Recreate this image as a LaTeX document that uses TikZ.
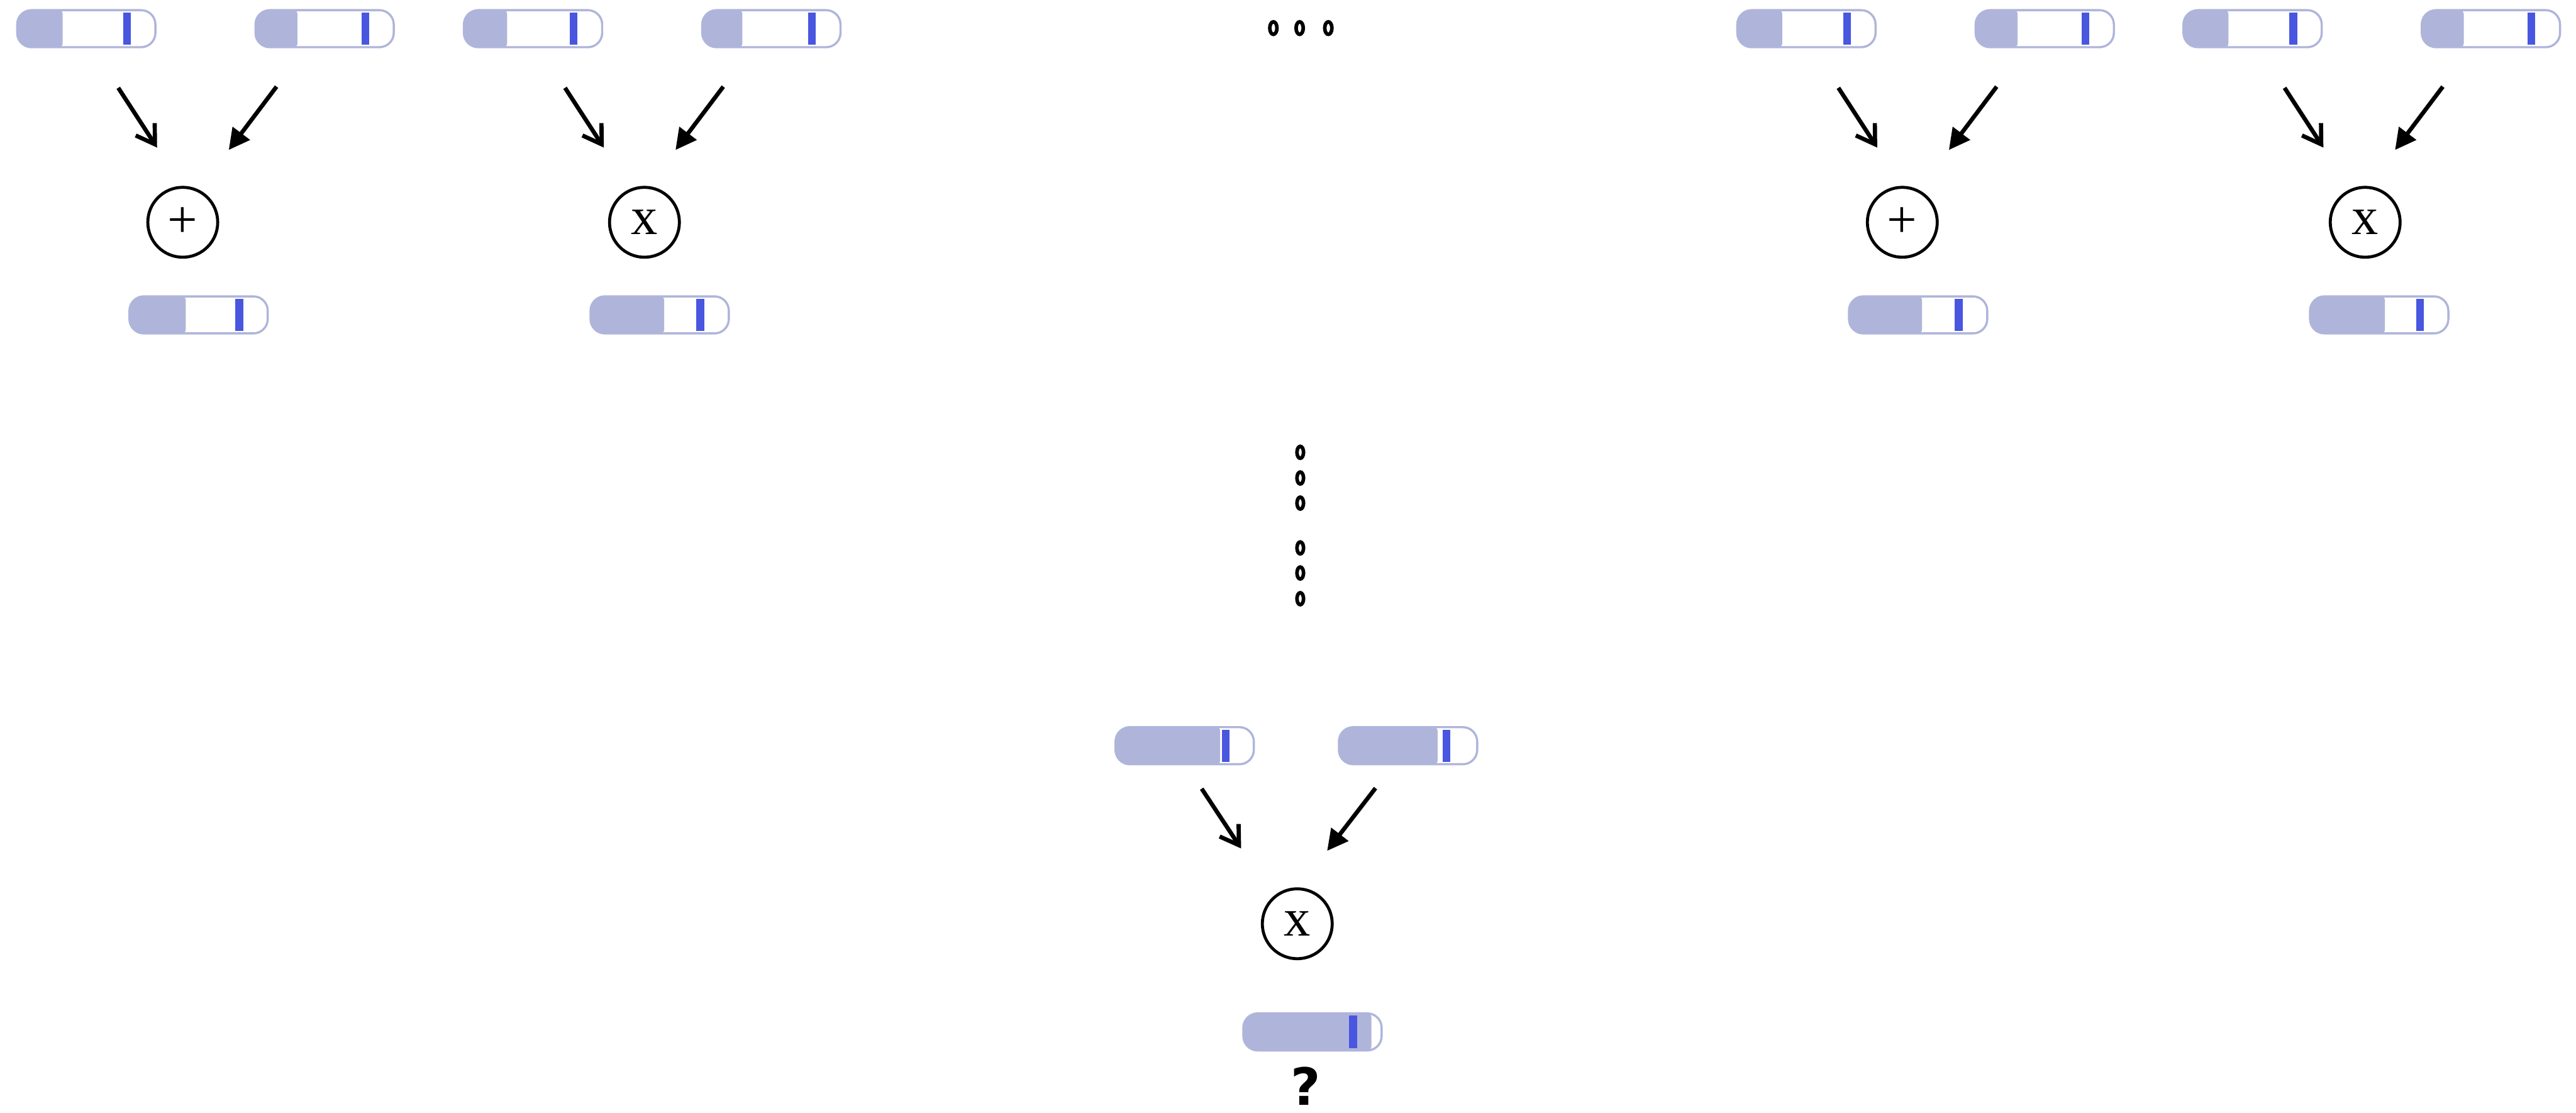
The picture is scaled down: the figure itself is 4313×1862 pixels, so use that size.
\documentclass[tikz,border=0pt]{standalone}
\usepackage{fontspec}
\newfontfamily\opfont{Liberation Serif}
\newfontfamily\qfont{DejaVu Sans}
\usetikzlibrary{arrows.meta}
\definecolor{barc}{HTML}{AFB5DA}
\definecolor{markc}{HTML}{4856E0}
\tikzset{
 barnode/.style={draw=barc, line width=3.6pt, rounded corners=24pt, minimum width=231.5pt, minimum height=62pt, inner sep=0pt, fill=white},
 opnode/.style={circle, draw=black, line width=5pt, minimum size=117pt, inner sep=0pt, font=\opfont\fontsize{89pt}{89pt}\selectfont},
 barbarrow/.style={line width=7pt, -{Straight Barb[length=30pt,width=38pt]}},
 triarrow/.style={line width=7pt, -{Triangle[length=35pt,width=35pt]}},
 dotring/.style={line width=6pt},
}
% name, left x, centre y, fill width, marker offset
\newcommand\pbar[5]{%
 \node[barnode] (#1) at ({#2+117.5},#3) {};
 \begin{scope}[shift={(#2,#3)}]
  \fill[barc, rounded corners=24pt] (0.5,-31.5) rectangle (60,31.5);
  \fill[barc, rounded corners=7pt] (30,-31.5) rectangle (#4,31.5);
  \fill[markc] (#5,-27) rectangle ({#5+13},27);
 \end{scope}}
\begin{document}
\begin{tikzpicture}[x=1pt,y=-1pt]
\useasboundingbox (0,0) rectangle (4313,1862);
% top input bars
\pbar{b1}{27}{48}{78}{179}
\pbar{b2}{426}{48}{72}{179}
\pbar{b3}{775}{48}{74}{179}
\pbar{b4}{1174}{48}{69}{179}
\pbar{b5}{2907}{48}{77}{179}
\pbar{b6}{3306}{48}{72}{179}
\pbar{b7}{3654}{48}{77}{179}
\pbar{b8}{4053}{48}{72}{179}
% result bars
\pbar{r1}{215}{527}{96}{179}
\pbar{r2}{987}{527}{125}{179}
\pbar{r3}{3094}{527}{124}{179}
\pbar{r4}{3866}{527}{127}{179}
% bottom inputs and final
\pbar{i1}{1866}{1248}{177}{180}
\pbar{i2}{2240}{1248}{167}{175}
\pbar{fin}{2080}{1727}{216}{179}
% operators
\node[opnode] (c1) at (306,372) {+};
\node[opnode] (c2) at (1079,372) {x};
\node[opnode] (c3) at (3185,372) {+};
\node[opnode] (c4) at (3960,372) {x};
\node[opnode] (c5) at (2172,1546) {x};
% question mark
\node[font=\qfont\bfseries\fontsize{86pt}{86pt}\selectfont, inner sep=0pt] (q) at (2186,1818) {?};
% arrow end points
\coordinate (l1s) at (198,147);  \coordinate (l1e) at (263,247);
\coordinate (r1s) at (463,145);  \coordinate (r1e) at (383,251);
\coordinate (l2s) at (946,147);  \coordinate (l2e) at (1011,247);
\coordinate (r2s) at (1211,145); \coordinate (r2e) at (1131,251);
\coordinate (l3s) at (3078,147); \coordinate (l3e) at (3143,247);
\coordinate (r3s) at (3343,145); \coordinate (r3e) at (3263,251);
\coordinate (l4s) at (3825,147); \coordinate (l4e) at (3890,247);
\coordinate (r4s) at (4090,145); \coordinate (r4e) at (4010,251);
\coordinate (l5s) at (2012,1320); \coordinate (l5e) at (2078,1420);
\coordinate (r5s) at (2303,1319); \coordinate (r5e) at (2222,1424);
\foreach \k in {1,...,5}{
  \draw[barbarrow] (l\k s) -- (l\k e);
  \draw[triarrow] (r\k s) -- (r\k e);
}
% ellipsis rings
\foreach \x in {2132,2176,2224}
  \draw[dotring] (\x,47) ellipse [x radius=6, y radius=10.5];
\foreach \y in {757,800,842,917,959,1002}
  \draw[dotring] (2177,\y) ellipse [x radius=5.5, y radius=10];
\end{tikzpicture}
\end{document}
